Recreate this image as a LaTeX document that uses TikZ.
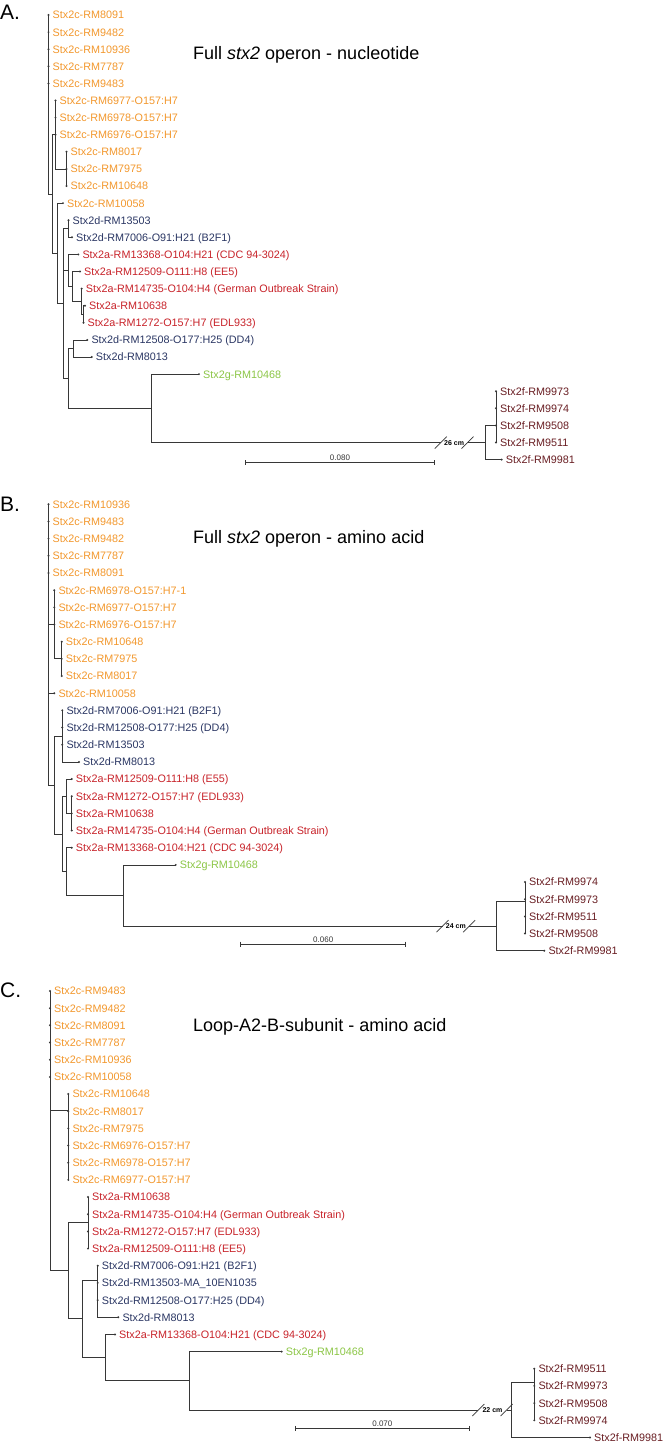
\documentclass[tikz,border=0pt]{standalone}
\usepackage{fontspec}
\setmainfont{Liberation Sans}
\definecolor{cOr}{RGB}{243,152,45}
\definecolor{cNv}{RGB}{43,55,100}
\definecolor{cRd}{RGB}{200,35,42}
\definecolor{cGn}{RGB}{140,198,70}
\definecolor{cMr}{RGB}{105,30,35}
\definecolor{cLn}{RGB}{55,55,55}
\tikzset{
  lab/.style={anchor=base west,inner sep=0pt,font=\fontsize{10.8}{12}\selectfont},
  brl/.style={draw=cLn,line width=0.8pt},
  ttl/.style={anchor=base west,inner sep=0pt,font=\fontsize{18}{20}\selectfont},
  letter/.style={anchor=base west,inner sep=0pt,font=\fontsize{21}{24}\selectfont},
  sbar/.style={draw=cLn,line width=0.8pt},
  sblab/.style={anchor=south,inner sep=0.5pt,text=cLn,font=\fontsize{8}{9}\selectfont},
  brk/.style={inner sep=0pt,font=\bfseries\fontsize{7}{8}\selectfont},
}
\newcommand\leafnode[5]{%
  \coordinate (#1) at (#2,#3);
  \fill[cLn] (#1) circle (1.1pt);
  \node[lab,text=#4] (#1-l) at ([xshift=4pt,yshift=-3.9pt]#1) {#5};
}
\newcommand\kids[2]{\foreach \c in {#2}{\draw[brl] (#1) |- (\c);}}
\newcommand\slashmark[1]{\draw[cLn,line width=0.7pt] ([shift={(-6pt,-6pt)}]#1) -- ([shift={(6pt,6pt)}]#1);}
\newcommand\scalebar[5]{% name, x1, x2, y, label
  \coordinate (#1L) at (#2,#4);
  \coordinate (#1R) at (#3,#4);
  \draw[sbar] (#1L) -- (#1R);
  \draw[sbar] ([yshift=2.5pt]#1L) -- ([yshift=-2.5pt]#1L);
  \draw[sbar] ([yshift=2.5pt]#1R) -- ([yshift=-2.5pt]#1R);
  \node[sblab] (#1T) at ($(#1L)!0.5!(#1R)+(0,1.2pt)$) {#5};
}
\usetikzlibrary{calc}
\begin{document}
\begin{tikzpicture}[x=1pt,y=-1pt]
\useasboundingbox[fill=white] (0,0) rectangle (666,1443);

% ================= Panel A =================
\node[letter] (LA) at (0,19) {A.};
\node[ttl] (TA) at (193,59.3) {Full \textit{stx2} operon - nucleotide};

\leafnode{a0}{48.5}{15}{cOr}{Stx2c-RM8091}
\leafnode{a1}{48.5}{32.1}{cOr}{Stx2c-RM9482}
\leafnode{a2}{48.5}{49.2}{cOr}{Stx2c-RM10936}
\leafnode{a3}{48.5}{66.3}{cOr}{Stx2c-RM7787}
\leafnode{a4}{48.5}{83.4}{cOr}{Stx2c-RM9483}
\leafnode{a5}{55.5}{100.5}{cOr}{Stx2c-RM6977-O157:H7}
\leafnode{a6}{55.5}{117.6}{cOr}{Stx2c-RM6978-O157:H7}
\leafnode{a7}{55.5}{134.7}{cOr}{Stx2c-RM6976-O157:H7}
\leafnode{a8}{66.5}{151.8}{cOr}{Stx2c-RM8017}
\leafnode{a9}{66.5}{168.9}{cOr}{Stx2c-RM7975}
\leafnode{a10}{66.5}{186}{cOr}{Stx2c-RM10648}
\leafnode{a11}{63}{203.1}{cOr}{Stx2c-RM10058}
\leafnode{a12}{68.5}{220.2}{cNv}{Stx2d-RM13503}
\leafnode{a13}{72}{237.3}{cNv}{Stx2d-RM7006-O91:H21 (B2F1)}
\leafnode{a14}{78.3}{254.4}{cRd}{Stx2a-RM13368-O104:H21 (CDC 94-3024)}
\leafnode{a15}{80}{271.5}{cRd}{Stx2a-RM12509-O111:H8 (EE5)}
\leafnode{a16}{81.7}{288.6}{cRd}{Stx2a-RM14735-O104:H4 (German Outbreak Strain)}
\leafnode{a17}{85}{305.7}{cRd}{Stx2a-RM10638}
\leafnode{a18}{83.5}{322.8}{cRd}{Stx2a-RM1272-O157:H7 (EDL933)}
\leafnode{a19}{87.3}{339.9}{cNv}{Stx2d-RM12508-O177:H25 (DD4)}
\leafnode{a20}{91.7}{357}{cNv}{Stx2d-RM8013}
\leafnode{a21}{199}{374.1}{cGn}{Stx2g-RM10468}
\leafnode{a22}{496}{391.2}{cMr}{Stx2f-RM9973}
\leafnode{a23}{496}{408.3}{cMr}{Stx2f-RM9974}
\leafnode{a24}{496}{425.4}{cMr}{Stx2f-RM9508}
\leafnode{a25}{496}{442.5}{cMr}{Stx2f-RM9511}
\leafnode{a26}{501.7}{459.6}{cMr}{Stx2f-RM9981}

\coordinate (aR)  at (48.5,104.5);
\coordinate (aN1) at (52,194);
\coordinate (aX1) at (55.5,134.7);
\coordinate (aX2) at (66.5,168.9);
\coordinate (aP2) at (57,253.35);
\coordinate (aQ)  at (63.3,303.6);
\coordinate (aD1) at (68.3,228.75);
\coordinate (aA1) at (68.3,270.4);
\coordinate (aA2) at (72.7,286.45);
\coordinate (aA3) at (81.7,301.4);
\coordinate (aA4) at (83,314.25);
\coordinate (aE)  at (68.3,378.4);
\coordinate (aD2) at (73.3,348.45);
\coordinate (aGF) at (151,408.3);
\coordinate (aF1) at (485,442.65);
\coordinate (aF2) at (496,425.7);
\coordinate (aB1) at (440.8,442.65);
\coordinate (aB2) at (467.5,442.65);

\kids{aR}{a0,a1,a2,a3,a4,aN1}
\kids{aN1}{aX1,aP2}
\kids{aX1}{a5,a6,a7,aX2}
\kids{aX2}{a8,a9,a10}
\kids{aP2}{a11,aQ}
\kids{aQ}{aD1,aA1,aE}
\kids{aD1}{a12,a13}
\kids{aA1}{a14,aA2}
\kids{aA2}{a15,aA3}
\kids{aA3}{a16,aA4}
\kids{aA4}{a17,a18}
\kids{aE}{aD2,aGF}
\kids{aD2}{a19,a20}
\kids{aGF}{a21,aB1}
\draw[brl] (aB2) -- (aF1);
\kids{aF1}{aF2,a26}
\kids{aF2}{a22,a23,a24,a25}
\slashmark{aB1}
\slashmark{aB2}
\node[brk] (aBT) at ($(aB1)!0.5!(aB2)$) {26 cm};
\scalebar{as}{245.7}{434.3}{462.7}{0.080}

% ================= Panel B =================
\node[letter] (LB) at (0,511) {B.};
\node[ttl] (TB) at (193,543) {Full \textit{stx2} operon - amino acid};

\leafnode{b0}{48.5}{504.3}{cOr}{Stx2c-RM10936}
\leafnode{b1}{48.5}{521.5}{cOr}{Stx2c-RM9483}
\leafnode{b2}{48.5}{538.6}{cOr}{Stx2c-RM9482}
\leafnode{b3}{48.5}{555.8}{cOr}{Stx2c-RM7787}
\leafnode{b4}{48.5}{573.0}{cOr}{Stx2c-RM8091}
\leafnode{b5}{54.3}{590.2}{cOr}{Stx2c-RM6978-O157:H7-1}
\leafnode{b6}{54.3}{607.3}{cOr}{Stx2c-RM6977-O157:H7}
\leafnode{b7}{54.3}{624.5}{cOr}{Stx2c-RM6976-O157:H7}
\leafnode{b8}{61.7}{641.7}{cOr}{Stx2c-RM10648}
\leafnode{b9}{61.7}{658.8}{cOr}{Stx2c-RM7975}
\leafnode{b10}{61.7}{676.0}{cOr}{Stx2c-RM8017}
\leafnode{b11}{54.3}{693.2}{cOr}{Stx2c-RM10058}
\leafnode{b12}{62.3}{710.3}{cNv}{Stx2d-RM7006-O91:H21 (B2F1)}
\leafnode{b13}{62.3}{727.5}{cNv}{Stx2d-RM12508-O177:H25 (DD4)}
\leafnode{b14}{62.3}{744.7}{cNv}{Stx2d-RM13503}
\leafnode{b15}{79}{761.9}{cNv}{Stx2d-RM8013}
\leafnode{b16}{71.7}{779.0}{cRd}{Stx2a-RM12509-O111:H8 (E55)}
\leafnode{b17}{71.7}{796.2}{cRd}{Stx2a-RM1272-O157:H7 (EDL933)}
\leafnode{b18}{71.7}{813.4}{cRd}{Stx2a-RM10638}
\leafnode{b19}{71.7}{830.5}{cRd}{Stx2a-RM14735-O104:H4 (German Outbreak Strain)}
\leafnode{b20}{71.7}{847.7}{cRd}{Stx2a-RM13368-O104:H21 (CDC 94-3024)}
\leafnode{b21}{175.7}{864.9}{cGn}{Stx2g-RM10468}
\leafnode{b22}{525}{882.0}{cMr}{Stx2f-RM9974}
\leafnode{b23}{525}{899.2}{cMr}{Stx2f-RM9973}
\leafnode{b24}{525}{916.4}{cMr}{Stx2f-RM9511}
\leafnode{b25}{525}{933.5}{cMr}{Stx2f-RM9508}
\leafnode{b26}{544.3}{950.7}{cMr}{Stx2f-RM9981}

\coordinate (bR)  at (48.5,644.65);
\coordinate (bX1) at (54.3,624.5);
\coordinate (bX2) at (61.7,658.85);
\coordinate (bP)  at (54.3,785);
\coordinate (bD)  at (62.3,736.1);
\coordinate (bQ)  at (62.3,833.9);
\coordinate (bA1) at (66.7,796.2);
\coordinate (bA2) at (71.7,813.35);
\coordinate (bE)  at (66.7,871.6);
\coordinate (bGF) at (123.3,895.55);
\coordinate (bF1) at (496.7,926.2);
\coordinate (bF2) at (525,901.7);
\coordinate (bB1) at (442.5,926.2);
\coordinate (bB2) at (469.2,926.2);

\kids{bR}{b0,b1,b2,b3,b4,bX1,b11,bP}
\kids{bX1}{b5,b6,b7,bX2}
\kids{bX2}{b8,b9,b10}
\kids{bP}{bD,bQ}
\kids{bD}{b12,b13,b14,b15}
\kids{bQ}{bA1,bE}
\kids{bA1}{b16,bA2}
\kids{bA2}{b17,b18,b19}
\kids{bE}{b20,bGF}
\kids{bGF}{b21,bB1}
\draw[brl] (bB2) -- (bF1);
\kids{bF1}{bF2,b26}
\kids{bF2}{b22,b23,b24,b25}
\slashmark{bB1}
\slashmark{bB2}
\node[brk] (bBT) at ($(bB1)!0.5!(bB2)$) {24 cm};
\scalebar{bs}{240.7}{405.7}{944}{0.060}

% ================= Panel C =================
\node[letter] (LC) at (0,997) {C.};
\node[ttl] (TC) at (193,1031) {Loop-A2-B-subunit - amino acid};

\leafnode{c0}{50}{991}{cOr}{Stx2c-RM9483}
\leafnode{c1}{50}{1008.2}{cOr}{Stx2c-RM9482}
\leafnode{c2}{50}{1025.3}{cOr}{Stx2c-RM8091}
\leafnode{c3}{50}{1042.5}{cOr}{Stx2c-RM7787}
\leafnode{c4}{50}{1059.7}{cOr}{Stx2c-RM10936}
\leafnode{c5}{50}{1076.9}{cOr}{Stx2c-RM10058}
\leafnode{c6}{68.3}{1094.0}{cOr}{Stx2c-RM10648}
\leafnode{c7}{68.3}{1111.2}{cOr}{Stx2c-RM8017}
\leafnode{c8}{68.3}{1128.4}{cOr}{Stx2c-RM7975}
\leafnode{c9}{68.3}{1145.5}{cOr}{Stx2c-RM6976-O157:H7}
\leafnode{c10}{68.3}{1162.7}{cOr}{Stx2c-RM6978-O157:H7}
\leafnode{c11}{68.3}{1179.9}{cOr}{Stx2c-RM6977-O157:H7}
\leafnode{c12}{88}{1197.0}{cRd}{Stx2a-RM10638}
\leafnode{c13}{88}{1214.2}{cRd}{Stx2a-RM14735-O104:H4 (German Outbreak Strain)}
\leafnode{c14}{88}{1231.4}{cRd}{Stx2a-RM1272-O157:H7 (EDL933)}
\leafnode{c15}{88}{1248.6}{cRd}{Stx2a-RM12509-O111:H8 (EE5)}
\leafnode{c16}{97.7}{1265.7}{cNv}{Stx2d-RM7006-O91:H21 (B2F1)}
\leafnode{c17}{97.7}{1282.9}{cNv}{Stx2d-RM13503-MA\_10EN1035}
\leafnode{c18}{97.7}{1300.1}{cNv}{Stx2d-RM12508-O177:H25 (DD4)}
\leafnode{c19}{118.3}{1317.2}{cNv}{Stx2d-RM8013}
\leafnode{c20}{115}{1334.4}{cRd}{Stx2a-RM13368-O104:H21 (CDC 94-3024)}
\leafnode{c21}{281.7}{1351.6}{cGn}{Stx2g-RM10468}
\leafnode{c22}{534.3}{1368.7}{cMr}{Stx2f-RM9511}
\leafnode{c23}{534.3}{1385.9}{cMr}{Stx2f-RM9973}
\leafnode{c24}{534.3}{1403.1}{cMr}{Stx2f-RM9508}
\leafnode{c25}{534.3}{1420.3}{cMr}{Stx2f-RM9974}
\leafnode{c26}{590}{1437.4}{cMr}{Stx2f-RM9981}

\coordinate (cR)  at (50,1130.7);
\coordinate (cX1) at (68.3,1110.5);
\coordinate (cS)  at (68.3,1270.4);
\coordinate (cAc) at (88,1222);
\coordinate (cT)  at (82.7,1318.8);
\coordinate (cD)  at (97.7,1280);
\coordinate (cU)  at (105,1357.6);
\coordinate (cGF) at (189.3,1380.8);
\coordinate (cF1) at (511.7,1410);
\coordinate (cF2) at (534.3,1382.7);
\coordinate (cB1) at (478.3,1410);
\coordinate (cB2) at (506.7,1410);

\kids{cR}{c0,c1,c2,c3,c4,c5,cX1,cS}
\kids{cX1}{c6,c7,c8,c9,c10,c11}
\kids{cS}{cAc,cT}
\kids{cAc}{c12,c13,c14,c15}
\kids{cT}{cD,cU}
\kids{cD}{c16,c17,c18,c19}
\kids{cU}{c20,cGF}
\kids{cGF}{c21,cB1}
\draw[brl] (cB2) -- (cF1);
\kids{cF1}{cF2,c26}
\kids{cF2}{c22,c23,c24,c25}
\slashmark{cB1}
\slashmark{cB2}
\node[brk] (cBT) at ($(cB1)!0.5!(cB2)$) {22 cm};
\scalebar{cs}{295.7}{469}{1428.3}{0.070}
\end{tikzpicture}
\end{document}
